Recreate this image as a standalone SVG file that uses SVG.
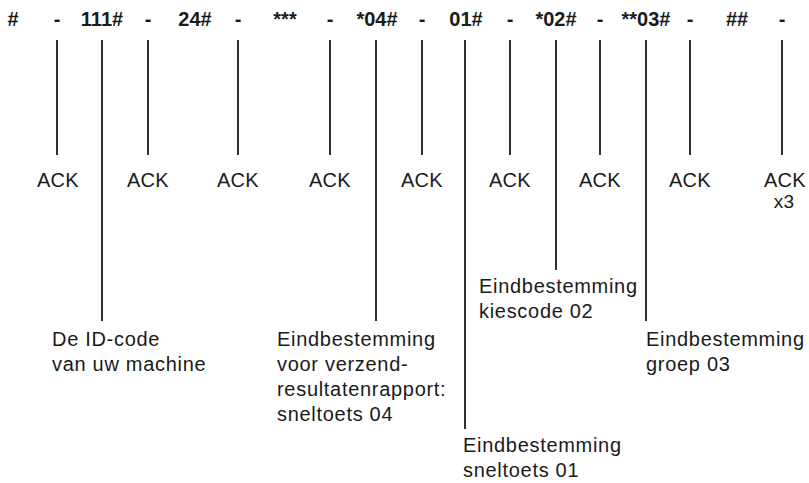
<svg xmlns="http://www.w3.org/2000/svg" width="809" height="483" viewBox="0 0 809 483">
<style>
.code{font-family:"Liberation Sans",Arial,sans-serif;font-size:20px;font-weight:bold;fill:#1a1a1a;text-anchor:middle}
.ack{font-family:"Liberation Sans",Arial,sans-serif;font-size:20px;fill:#1a1a1a;text-anchor:middle;letter-spacing:0.3px}
.lbl{font-family:"Liberation Sans",Arial,sans-serif;font-size:20px;fill:#1a1a1a;letter-spacing:0.7px}
.ln{stroke:#1a1a1a;stroke-width:1.8;fill:none}
</style>
<rect width="809" height="483" fill="#fff"/>
<g id="sequence">
<text class="code" x="13" y="26">#</text>
<text class="code" x="57" y="26">-</text>
<text class="code" x="102" y="26">111#</text>
<text class="code" x="148" y="26">-</text>
<text class="code" x="195" y="26">24#</text>
<text class="code" x="238" y="26">-</text>
<text class="code" x="285" y="26">***</text>
<text class="code" x="330" y="26">-</text>
<text class="code" x="377" y="26">*04#</text>
<text class="code" x="422" y="26">-</text>
<text class="code" x="466" y="26">01#</text>
<text class="code" x="510" y="26">-</text>
<text class="code" x="556" y="26">*02#</text>
<text class="code" x="600" y="26">-</text>
<text class="code" x="646" y="26">**03#</text>
<text class="code" x="690" y="26">-</text>
<text class="code" x="737" y="26">##</text>
<text class="code" x="782" y="26">-</text>
</g>
<g id="connectors">
<line class="ln" x1="57" y1="40" x2="57" y2="155"/>
<line class="ln" x1="102" y1="40" x2="102" y2="321"/>
<line class="ln" x1="148" y1="40" x2="148" y2="155"/>
<line class="ln" x1="238" y1="40" x2="238" y2="155"/>
<line class="ln" x1="330" y1="40" x2="330" y2="155"/>
<line class="ln" x1="376" y1="40" x2="376" y2="321"/>
<line class="ln" x1="422" y1="40" x2="422" y2="155"/>
<line class="ln" x1="465" y1="40" x2="465" y2="429"/>
<line class="ln" x1="510" y1="40" x2="510" y2="155"/>
<line class="ln" x1="556" y1="40" x2="556" y2="270"/>
<line class="ln" x1="600" y1="40" x2="600" y2="155"/>
<line class="ln" x1="646" y1="40" x2="646" y2="321"/>
<line class="ln" x1="690" y1="40" x2="690" y2="155"/>
<line class="ln" x1="782" y1="40" x2="782" y2="155"/>
</g>
<g id="acks">
<text class="ack" x="58" y="187">ACK</text>
<text class="ack" x="148" y="187">ACK</text>
<text class="ack" x="238" y="187">ACK</text>
<text class="ack" x="330" y="187">ACK</text>
<text class="ack" x="422" y="187">ACK</text>
<text class="ack" x="510" y="187">ACK</text>
<text class="ack" x="600" y="187">ACK</text>
<text class="ack" x="690" y="187">ACK</text>
<text class="ack" x="785" y="187">ACK</text>
<text class="ack" x="784" y="208" style="font-size:19px">x3</text>
</g>
<g id="label-id">
<text class="lbl" x="52" y="346">De ID-code</text>
<text class="lbl" x="52" y="371">van uw machine</text>
</g>
<g id="label-04">
<text class="lbl" x="277" y="346">Eindbestemming</text>
<text class="lbl" x="277" y="371">voor verzend-</text>
<text class="lbl" x="277" y="396">resultatenrapport:</text>
<text class="lbl" x="277" y="421">sneltoets 04</text>
</g>
<g id="label-01">
<text class="lbl" x="463" y="452">Eindbestemming</text>
<text class="lbl" x="463" y="477">sneltoets 01</text>
</g>
<g id="label-02">
<text class="lbl" x="479" y="293">Eindbestemming</text>
<text class="lbl" x="479" y="318">kiescode 02</text>
</g>
<g id="label-03">
<text class="lbl" x="646" y="346">Eindbestemming</text>
<text class="lbl" x="646" y="371">groep 03</text>
</g>
</svg>
